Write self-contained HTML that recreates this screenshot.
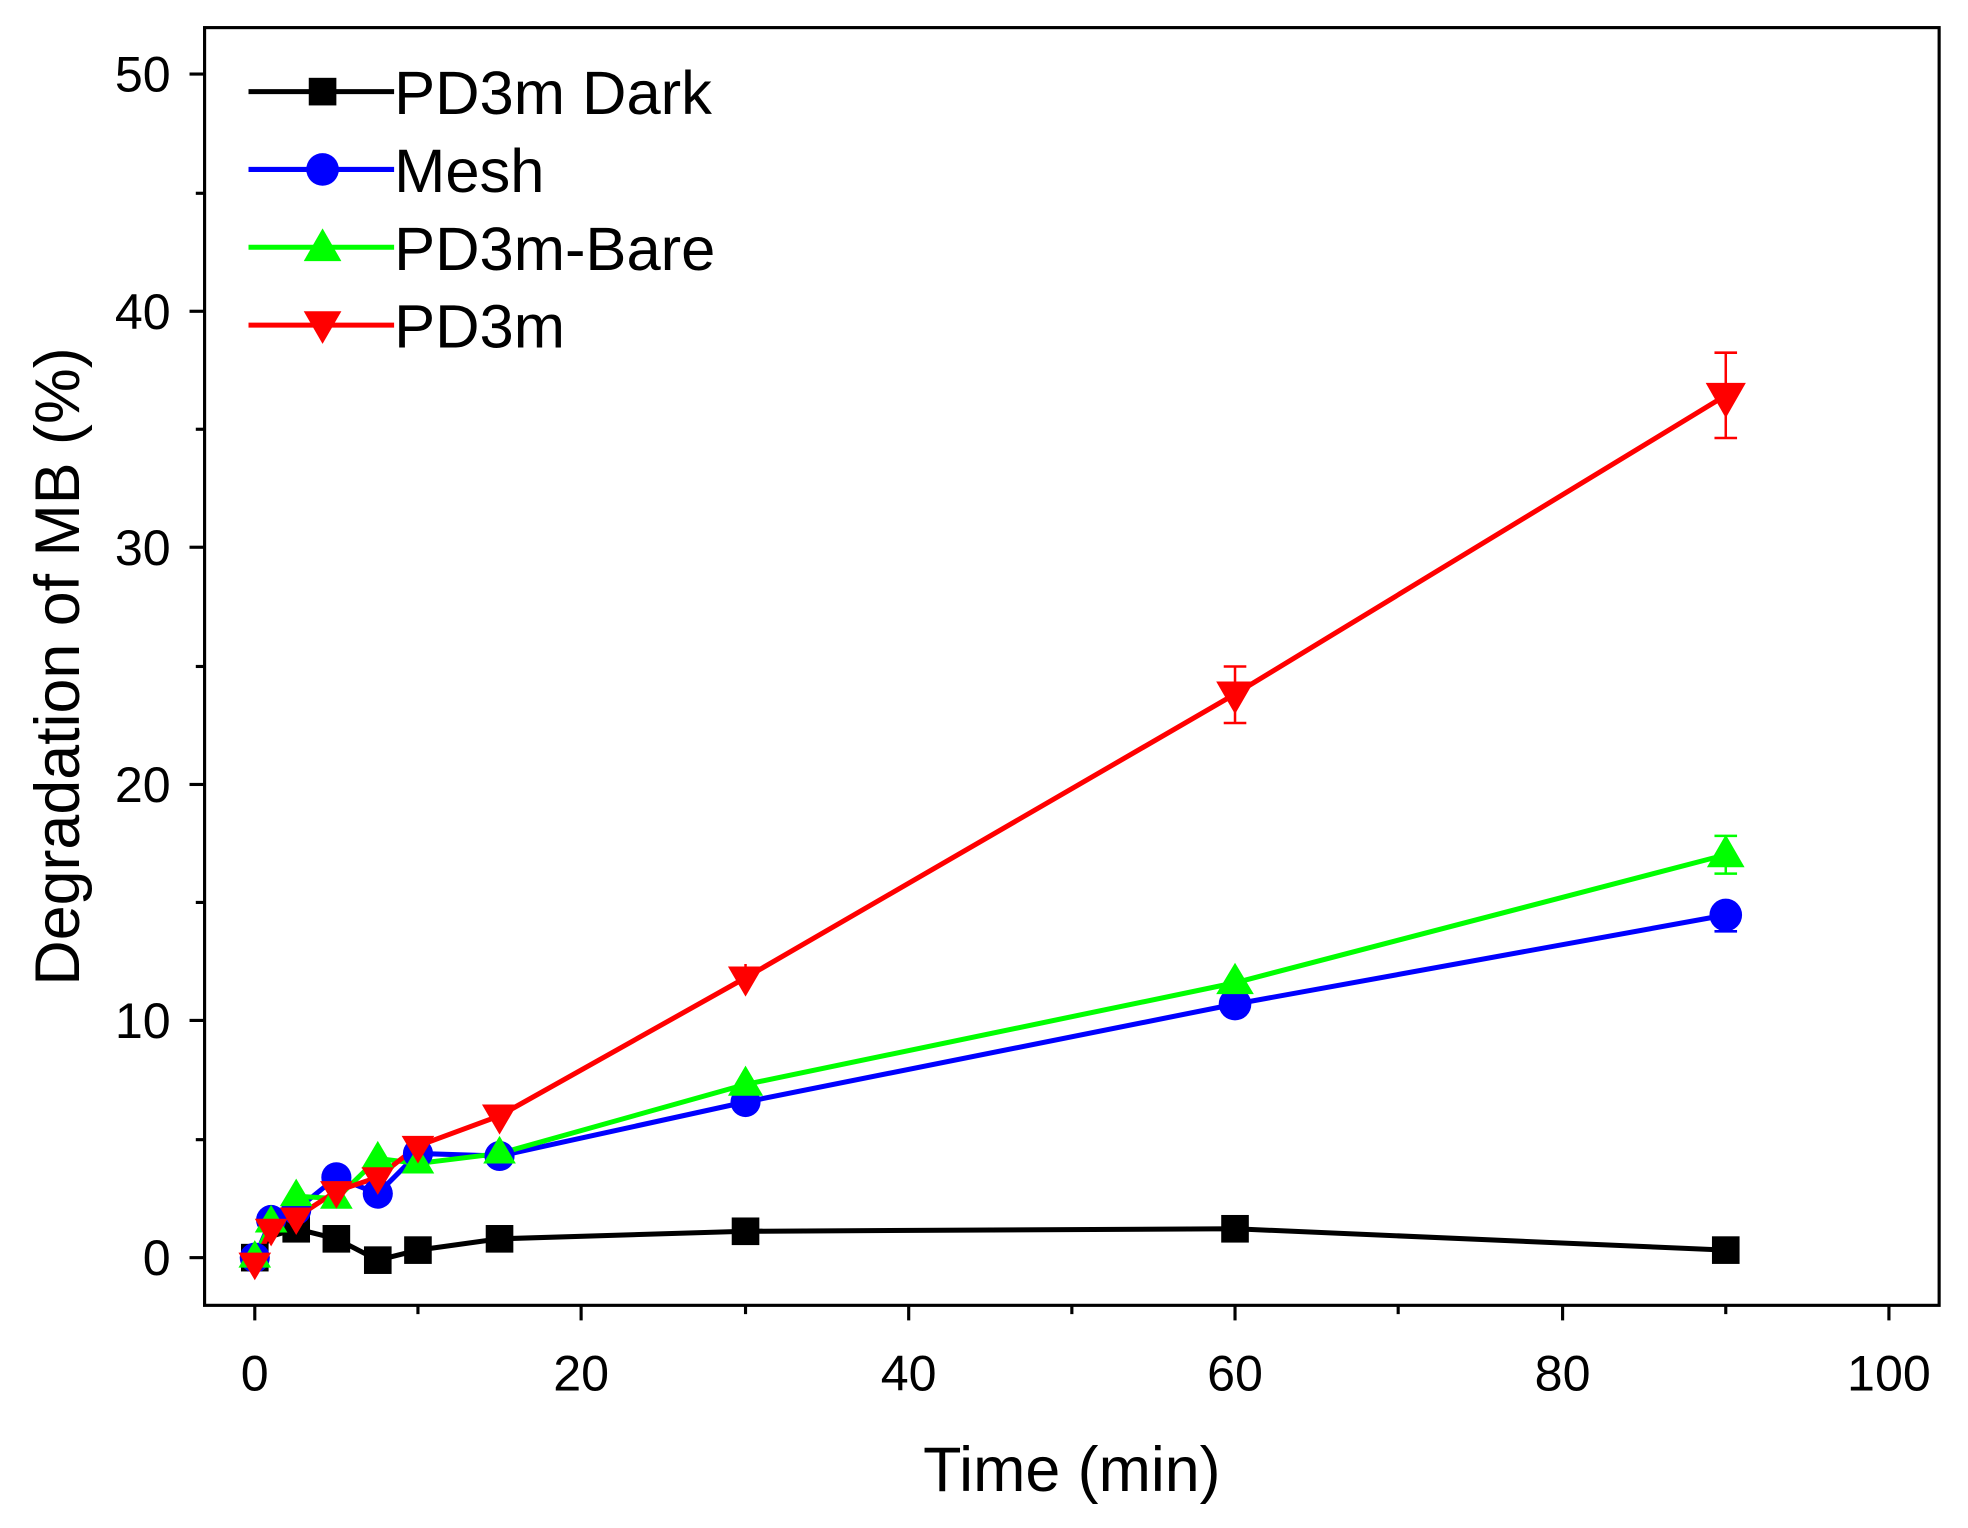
<!DOCTYPE html>
<html><head><style>html,body{margin:0;padding:0;background:#fff}svg{display:block}</style></head>
<body>
<svg width="1968" height="1528" viewBox="0 0 1568 1217.4" preserveAspectRatio="none" xmlns="http://www.w3.org/2000/svg" font-family="Liberation Sans, Arial, sans-serif">
<rect x="163" y="22" width="1382" height="1018" fill="none" stroke="#000" stroke-width="2.5"/>
<g stroke="#000" stroke-width="2.5">
<line x1="203" y1="1040" x2="203" y2="1052"/><line x1="333" y1="1040" x2="333" y2="1047"/>
<line x1="463" y1="1040" x2="463" y2="1052"/><line x1="594" y1="1040" x2="594" y2="1047"/>
<line x1="724" y1="1040" x2="724" y2="1052"/><line x1="854" y1="1040" x2="854" y2="1047"/>
<line x1="984" y1="1040" x2="984" y2="1052"/><line x1="1114" y1="1040" x2="1114" y2="1047"/>
<line x1="1245" y1="1040" x2="1245" y2="1052"/><line x1="1375" y1="1040" x2="1375" y2="1047"/>
<line x1="1505" y1="1040" x2="1505" y2="1052"/>
<line x1="151" y1="1002" x2="163" y2="1002"/><line x1="156" y1="908" x2="163" y2="908"/>
<line x1="151" y1="813" x2="163" y2="813"/><line x1="156" y1="719" x2="163" y2="719"/>
<line x1="151" y1="625" x2="163" y2="625"/><line x1="156" y1="531" x2="163" y2="531"/>
<line x1="151" y1="436" x2="163" y2="436"/><line x1="156" y1="342" x2="163" y2="342"/>
<line x1="151" y1="248" x2="163" y2="248"/><line x1="156" y1="154" x2="163" y2="154"/>
<line x1="151" y1="59" x2="163" y2="59"/>
</g>
<g font-size="40" text-anchor="middle">
<text x="203" y="1108">0</text><text x="463" y="1108">20</text><text x="724" y="1108">40</text>
<text x="984" y="1108">60</text><text x="1245" y="1108">80</text><text x="1505" y="1108">100</text>
</g>
<g font-size="40" text-anchor="end">
<text x="136" y="1016">0</text><text x="136" y="827">10</text><text x="136" y="639">20</text>
<text x="136" y="450">30</text><text x="136" y="262">40</text><text x="136" y="73">50</text>
</g>
<text x="854" y="1188" font-size="50" text-anchor="middle">Time (min)</text>
<text transform="translate(63,531) rotate(-90)" font-size="50" text-anchor="middle">Degradation of MB (%)</text>
<g stroke-width="4" fill="none">
<polyline stroke="#000" points="203,1002 216,985 236,979 268,987 301,1004 333,996 398,987 594,981 984,979 1375,996"/>
<polyline stroke="#00f" points="203,1002 216,972 236,964 268,938 301,951 333,919 398,921 594,878 984,800 1375,729"/>
<polyline stroke="#0f0" points="203,1002 216,974 236,953 268,955 301,923 333,927 398,919 594,864 984,783 1375,681"/>
<polyline stroke="#f00" points="203,1006 216,979 236,970 268,949 301,938 333,913 398,889 594,779 984,553 1375,315"/>
<path stroke="#f00" stroke-width="2" d="M1375,281V349M1366,281H1384M1366,349H1384M984,531V576M975,531H993M975,576H993M594,768V790"/>
<path stroke="#0f0" stroke-width="2" d="M1375,666V696M1366,666H1384M1366,696H1384"/>
<path stroke="#00f" stroke-width="2" d="M1375,718V742M1366,742H1384"/>
</g>
<g fill="#000">
<rect x="192" y="991" width="22" height="22"/><rect x="225" y="968" width="22" height="22"/><rect x="257" y="976" width="22" height="22"/>
<rect x="290" y="993" width="22" height="22"/><rect x="322" y="985" width="22" height="22"/><rect x="387" y="976" width="22" height="22"/>
<rect x="583" y="970" width="22" height="22"/><rect x="973" y="968" width="22" height="22"/><rect x="1364" y="985" width="22" height="22"/>
</g>
<g fill="#00f">
<circle cx="203" cy="1002" r="12"/><circle cx="216" cy="972" r="12"/><circle cx="236" cy="964" r="12"/><circle cx="268" cy="938" r="12"/>
<circle cx="301" cy="951" r="12"/><circle cx="333" cy="919" r="12"/><circle cx="398" cy="921" r="12"/><circle cx="594" cy="878" r="12"/>
<circle cx="984" cy="800" r="13"/><circle cx="1375" cy="729" r="13"/>
</g>
<g fill="#0f0">
<path d="M203,988l13,22h-26z M216,960l13,22h-26z M236,939l13,22h-26z M268,941l13,22h-26z M301,909l13,22h-26z M333,913l13,22h-26z M398,905l13,22h-26z M594,849l14,24h-28z M984,767l15,25h-30z M1375,665l15,26h-30z"/>
</g>
<g fill="#f00">
<path d="M203,1020l13,-22h-26z M216,993l13,-22h-26z M236,984l13,-22h-26z M268,963l13,-22h-26z M301,952l13,-22h-26z M333,927l13,-22h-26z M398,904l14,-24h-28z M594,794l14,-24h-28z M984,569l15,-26h-30z M1375,333l16,-28h-32z"/>
</g>
<g stroke-width="4">
<line x1="198" y1="73" x2="314" y2="73" stroke="#000"/><rect x="246" y="62" width="22" height="22" fill="#000"/>
<line x1="198" y1="135" x2="314" y2="135" stroke="#00f"/><circle cx="257" cy="135" r="13" fill="#00f"/>
<line x1="198" y1="197" x2="314" y2="197" stroke="#0f0"/><path d="M257,182l15,26h-30z" fill="#0f0"/>
<line x1="198" y1="259" x2="314" y2="259" stroke="#f00"/><path d="M257,274l15,-26h-30z" fill="#f00"/>
</g>
<g font-size="49">
<text x="314" y="91">PD3m Dark</text><text x="314" y="153">Mesh</text>
<text x="314" y="215">PD3m-Bare</text><text x="314" y="277">PD3m</text>
</g>
</svg>
</body></html>
